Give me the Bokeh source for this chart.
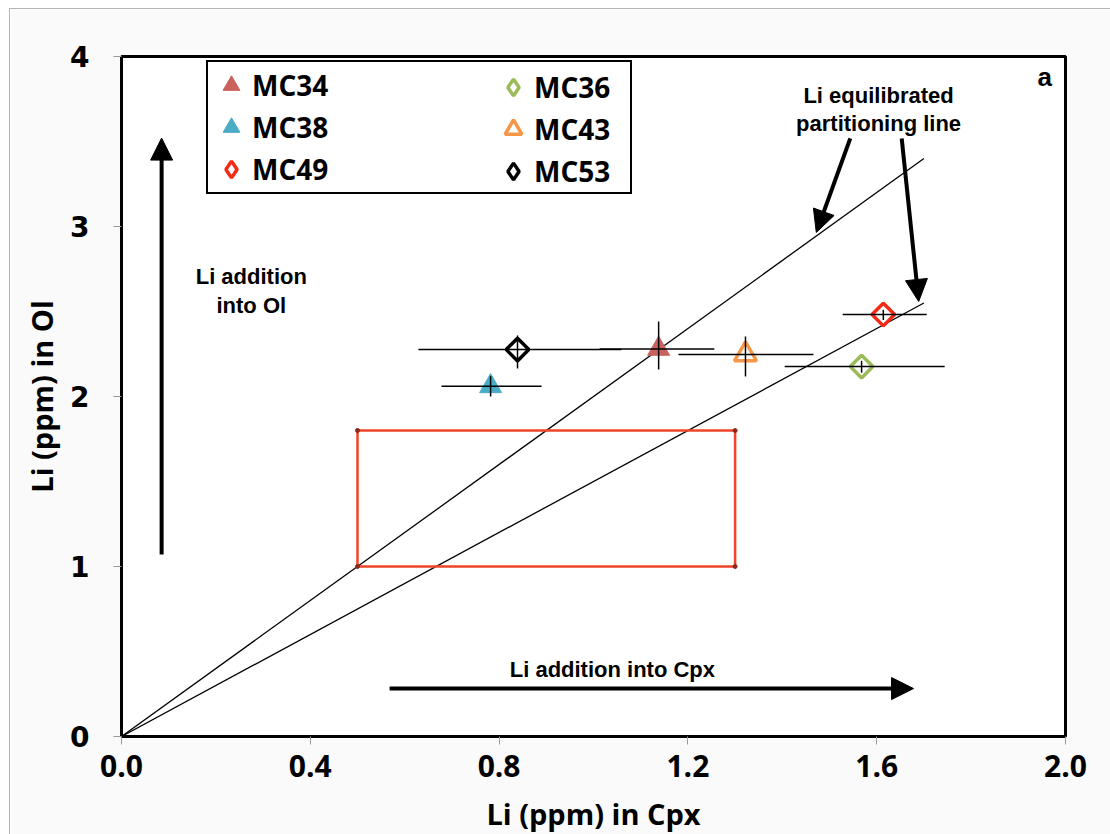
import math
from bokeh.plotting import figure
from bokeh.models import Legend, LegendItem, Arrow, NormalHead, FixedTicker, CustomJSTickFormatter
from bokeh.core.properties import value
from bokeh.embed import file_html
from bokeh.resources import INLINE

# ---- data ----
names = ["MC34", "MC36", "MC38", "MC43", "MC49", "MC53"]
li_cpx = [1.138, 1.568, 0.782, 1.322, 1.614, 0.839]
li_ol = [2.28, 2.176, 2.06, 2.247, 2.482, 2.276]
cpx_lo = [1.013, 1.405, 0.678, 1.180, 1.528, 0.629]
cpx_hi = [1.256, 1.744, 0.890, 1.466, 1.706, 1.059]
ol_lo = [2.159, 2.14, 2.00, 2.118, 2.45, 2.165]
ol_hi = [2.441, 2.21, 2.12, 2.353, 2.51, 2.359]
markers = ["triangle", "square", "triangle", "triangle", "square", "square"]
colors = ["#C9625C", "#9BBB59", "#4BACC6", "#F79646", "#F52A14", "#000000"]
filled = [True, False, True, False, False, False]

# equilibrated partitioning lines (Ol/Cpx = 2.0 and 1.5)
line_x = [0.0, 1.7]
line_steep = [0.0, 3.4]
line_shallow = [0.0, 2.55]

# reference box
box_x = [0.5, 1.3]
box_y = [1.0, 1.8]

x_ticks = [0.0, 0.4, 0.8, 1.2, 1.6, 2.0]
y_ticks = [0, 1, 2, 3, 4]

p = figure(width=1101, height=826, x_range=(0, 2), y_range=(0, 4),
           output_backend="svg", toolbar_location=None,
           min_border_left=111, min_border_right=46, min_border_top=47,
           min_border_bottom=99)
p.margin = (8, 0, 0, 9)
p.styles = {"border-left": "1px solid #b5b5b5", "border-top": "1px solid #b5b5b5"}
p.background_fill_color = "white"
p.border_fill_color = "#fafafa"
p.outline_line_color = "black"
p.outline_line_width = 3
p.grid.visible = False

for ax in (p.xaxis[0], p.yaxis[0]):
    ax.axis_line_color = None
    ax.major_tick_line_color = "#999999"
    ax.major_tick_out = 8
    ax.major_tick_in = 0
    ax.minor_tick_line_color = None
    ax.major_label_text_font_style = "bold"
    ax.major_label_text_color = "black"
    ax.axis_label_text_font_style = "bold"
    ax.axis_label_text_color = "black"

p.xaxis.ticker = FixedTicker(ticks=x_ticks)
p.xaxis.formatter = CustomJSTickFormatter(code="return tick.toFixed(1);")
p.yaxis.ticker = FixedTicker(ticks=y_ticks)
p.xaxis.major_label_text_font = "Open Sans"
p.xaxis.major_label_text_font_size = "30px"
p.xaxis.major_label_standoff = 10
p.yaxis.major_label_text_font = "DejaVu Sans"
p.yaxis.major_label_text_font_size = "28px"
p.yaxis.major_label_standoff = 24
p.xaxis.axis_label = "Li (ppm) in Cpx"
p.yaxis.axis_label = "Li (ppm) in Ol"
p.xaxis.axis_label_text_font = "Open Sans"
p.yaxis.axis_label_text_font = "Open Sans"
p.xaxis.axis_label_text_font_size = "29px"
p.yaxis.axis_label_text_font_size = "29px"
p.xaxis.axis_label_standoff = 14
p.yaxis.axis_label_standoff = 6

# partition lines
p.line(line_x, line_steep, line_color="black", line_width=1.3)
p.line(line_x, line_shallow, line_color="black", line_width=1.3)

# box
p.quad(left=[box_x[0]], right=[box_x[1]], bottom=[box_y[0]], top=[box_y[1]],
       fill_color=None, line_color="#F0442A", line_width=2.5)
p.scatter([box_x[0], box_x[0], box_x[1], box_x[1]], [box_y[0], box_y[1], box_y[0], box_y[1]],
          size=4, color="#8a2a1a")

# data points
renderers = {}
legend_glyphs = {}
for i, n in enumerate(names):
    if markers[i] == "triangle":
        r = p.scatter([li_cpx[i]], [li_ol[i]], marker="triangle", size=22,
                      fill_color=colors[i] if filled[i] else None,
                      line_color=colors[i], line_width=1 if filled[i] else 3.5)
        legend_glyphs[n] = r
    else:
        r = p.scatter([li_cpx[i]], [li_ol[i]], marker="square", size=16, angle=math.pi / 4,
                      fill_color=None, line_color=colors[i], line_width=3.5)
        # legend glyph (legend draws markers unrotated, so use a diamond proxy)
        legend_glyphs[n] = p.scatter([float("nan")], [float("nan")], marker="diamond",
                                     fill_color=None, line_color=colors[i], line_width=3.5)
    renderers[n] = r

# error bars on top
p.segment(cpx_lo, li_ol, cpx_hi, li_ol, line_color="black", line_width=1.5)
p.segment(li_cpx, ol_lo, li_cpx, ol_hi, line_color="black", line_width=1.5)

# arrows
arrow_x0 = [0.085, 0.568, 1.544, 1.653]
arrow_y0 = [1.07, 0.282, 3.518, 3.518]
arrow_x1 = [0.085, 1.678, 1.472, 1.689]
arrow_y1 = [3.52, 0.282, 2.965, 2.559]
for xs, ys, xe, ye in zip(arrow_x0, arrow_y0, arrow_x1, arrow_y1):
    p.add_layout(Arrow(end=NormalHead(size=22, fill_color="black", line_color="black"),
                       x_start=xs, y_start=ys, x_end=xe, y_end=ye,
                       line_width=4, line_color="black"))

# texts
txt_x = [0.275, 1.040, 1.604]
txt_y = [2.62, 0.394, 3.688]
txt = ["Li addition\ninto Ol", "Li addition into Cpx", "Li equilibrated\npartitioning line"]
p.text(txt_x, txt_y, text=txt, text_font=value("Liberation Sans"), text_font_style="bold",
       text_font_size="22px", text_align="center", text_baseline="middle",
       text_line_height=1.15, text_color="black")
p.text([1.956], [3.88], text=["a"], text_font=value("Liberation Sans"), text_font_style="bold",
       text_font_size="26px", text_align="center", text_baseline="middle", text_color="black")

common = dict(label_text_font="Open Sans", label_text_font_style="bold",
              label_text_font_size="28px", label_text_color="black",
              glyph_width=42, glyph_height=42, label_height=42,
              spacing=0, padding=2, margin=0, label_standoff=0,
              border_line_width=2.5)
left_col = ["MC34", "MC38", "MC49"]
right_col = ["MC36", "MC43", "MC53"]
legend_a = Legend(items=[LegendItem(label=n, renderers=[legend_glyphs[n]]) for n in left_col],
                  location=(85, 542), label_width=376,
                  border_line_color="black", border_line_alpha=1,
                  background_fill_color="white", background_fill_alpha=1, **common)
legend_b = Legend(items=[LegendItem(label=n, renderers=[legend_glyphs[n]]) for n in right_col],
                  location=(369, 542), label_width=80,
                  border_line_color="white", border_line_alpha=0,
                  background_fill_alpha=0, **common)
p.add_layout(legend_a, "center")
p.add_layout(legend_b, "center")

open("out.html", "w").write(file_html(p, INLINE))
